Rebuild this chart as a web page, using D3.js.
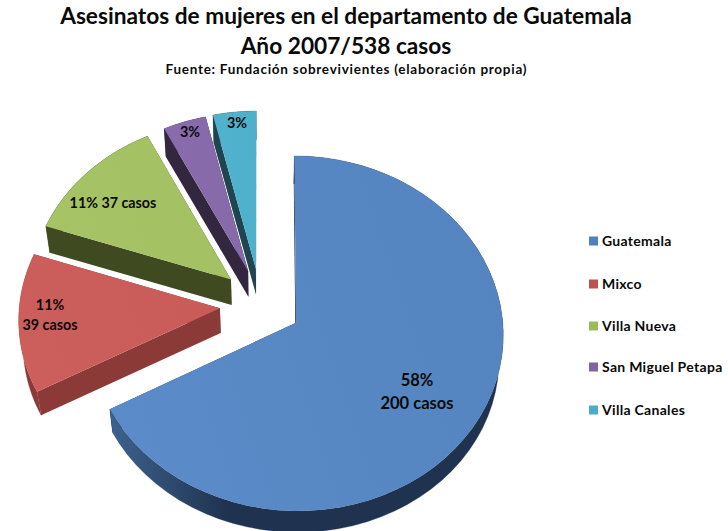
<!DOCTYPE html>
<html><head><meta charset="utf-8">
<script src="https://cdn.jsdelivr.net/npm/d3@7"></script>
<style>html,body{margin:0;padding:0;background:#fff}svg{display:block}text{font-family:Lato,"Open Sans",sans-serif;font-weight:700;fill:#0a0a0a}</style>
</head><body><div id="c"></div>
<script>
const categories = ["Guatemala","Mixco","Villa Nueva","San Miguel Petapa","Villa Canales"];
const values = [200,39,37,11,11];
const sliceLabels = [["58%","200 casos"],["11%","39 casos"],["11% 37 casos"],["3%"],["3%"]];
const titleLines = ["Asesinatos de mujeres en el departamento de Guatemala","Año 2007/538 casos"];
const subtitle = "Fuente: Fundación sobrevivientes (elaboración propia)";

const topColors = ["#5585c0","#c95b59","#a3c162","#8669a8","#4fb0cb"];
const topLight  = ["#5b8bc8","#cc5f5c","#a6c465","#8a6cac","#52b3ce"];
const wallColors= ["#1f3350","#8b3a38","#404a20","#33263f","#1f4650"];
const rimLight  = ["#3d628f","#8b3a38","#404a20","#33263f","#1f4650"];
const legendColors = ["#4f81bd","#c0504d","#9bbb59","#8064a2","#4bacc6"];
const explode = [0.175,0.215,0.215,0.215,0.215];
const radius = [1,0.975,0.98,0.98,0.98];
const nudgeX = [1,0,0,-1,-3];
const nudgeY = [1,-1,-2,0,0];
const labelPos = [[417,380],[50,305],[113,203],[190,132],[237,123]];
const legendY = [241,284,326,367,410];

const W=728,H=531;
const svg=d3.select("#c").append("svg").attr("width",W).attr("height",H);
const defs=svg.append("defs");

const cx=264, cy=306, bx=205.6, ay=175, p=0.06, depth=25, shrink=0.982;
function project(x,y,low){
  const d=1-p*y;
  let X=bx*x/d, Y=ay*y/d;
  if(low){X*=shrink;Y=Y*shrink+depth;}
  return [cx+X,cy+Y];
}
const pie=d3.pie().sort(null).startAngle(0).endAngle(2*Math.PI);
const arcs=pie(values);
const line=d3.line().curve(d3.curveLinearClosed);

arcs.forEach((a,i)=>{
  const mid=(a.startAngle+a.endAngle)/2, e=explode[i], r=radius[i];
  a.ox=e*Math.sin(mid); a.oy=-e*Math.cos(mid);
  a.rim=d3.range(0,61).map(k=>{
    const t=a.startAngle+(a.endAngle-a.startAngle)*k/60;
    return [a.ox+r*Math.sin(t),a.oy-r*Math.cos(t)];
  });
  a.apex=[a.ox,a.oy];
});
const P=(pt,low)=>project(pt[0],pt[1],low);

categories.forEach((c,i)=>{
  const g=defs.append("linearGradient").attr("id","top"+i).attr("gradientUnits","objectBoundingBox")
    .attr("x1",0).attr("y1",0.7).attr("x2",1).attr("y2",0.4);
  g.append("stop").attr("offset",0).attr("stop-color",topLight[i]);
  g.append("stop").attr("offset",1).attr("stop-color",topColors[i]);
  const r=defs.append("linearGradient").attr("id","rim"+i).attr("gradientUnits","objectBoundingBox")
    .attr("x1",0).attr("y1",0).attr("x2",0.3).attr("y2",0);
  r.append("stop").attr("offset",0).attr("stop-color",rimLight[i]);
  r.append("stop").attr("offset",1).attr("stop-color",wallColors[i]);
});

const order=[4,3,2,1,0];
const sl=svg.append("g").selectAll("g").data(order.map(i=>arcs[i])).join("g")
  .attr("transform",a=>`translate(${nudgeX[a.index]},${nudgeY[a.index]})`);
sl.each(function(a){
  const i=a.index, g=d3.select(this);
  const top=[a.apex,...a.rim].map(q=>P(q,false));
  const wall=(u,v)=>[P(u,false),P(v,false),P(v,true),P(u,true)];
  g.append("path").attr("d",line(wall(a.apex,a.rim[0]))).attr("fill",wallColors[i]);
  g.append("path").attr("d",line(wall(a.apex,a.rim[60]))).attr("fill",wallColors[i]);
  g.append("path").attr("d",line([...a.rim.map(q=>P(q,false)),...a.rim.slice().reverse().map(q=>P(q,true))]))
    .attr("fill",`url(#rim${i})`).attr("stroke",wallColors[i]).attr("stroke-width",0.3);
  g.append("path").attr("d",line(top)).attr("fill",`url(#top${i})`);
});

const title=svg.append("g").attr("text-anchor","middle");
title.selectAll("text.t").data(titleLines).join("text").attr("class","t")
  .attr("x",346).attr("y",(d,i)=>24+i*30).attr("font-size",22.7).text(d=>d);
title.append("text").attr("x",346).attr("y",74).attr("font-size",13.5)
  .attr("textLength",361).attr("lengthAdjust","spacing").text(subtitle);

const lab=svg.append("g").attr("text-anchor","middle");
sliceLabels.forEach((ls,i)=>{
  const lh = i===0?23:20;
  const fs = i===0?16.5:14.3;
  ls.forEach((t,k)=>lab.append("text").attr("x",labelPos[i][0]).attr("y",labelPos[i][1]+k*lh)
    .attr("dy","0.35em").attr("font-size",fs).text(t));
});

const lg=svg.append("g").selectAll("g").data(categories).join("g")
  .attr("transform",(d,i)=>`translate(589,${legendY[i]})`);
lg.append("rect").attr("x",0).attr("y",-4.5).attr("width",9).attr("height",9).attr("fill",(d,i)=>legendColors[i]);
lg.append("text").attr("x",13).attr("dy","0.35em").attr("font-size",14).attr("letter-spacing",0.3).text(d=>d);
</script></body></html>
